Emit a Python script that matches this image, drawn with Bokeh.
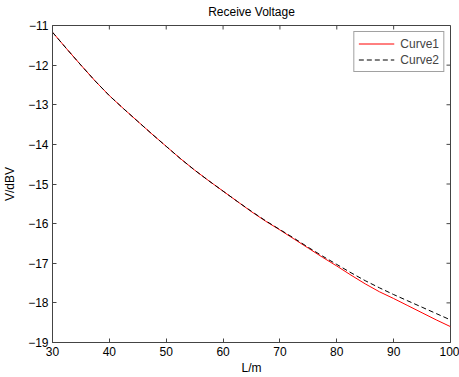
import math
from bokeh.plotting import figure
from bokeh.models import Range1d, FixedTicker, Legend, LegendItem
from bokeh.embed import file_html
from bokeh.resources import INLINE

# Data
L = [30, 32.5, 35, 37.5, 40, 42.5, 45, 47.5, 50, 52.5, 55, 57.5, 60, 62.5, 65, 67.5,
     70, 72.5, 75, 77.5, 80, 82.5, 85, 87.5, 90, 92.5, 95, 97.5, 100]
curve1 = [-11.17, -11.59, -12.00, -12.40, -12.77, -13.10, -13.42, -13.74, -14.05,
          -14.36, -14.65, -14.92, -15.18, -15.44, -15.70, -15.94, -16.16, -16.39,
          -16.62, -16.85, -17.07, -17.30, -17.52, -17.72, -17.89, -18.07, -18.25,
          -18.43, -18.60]
curve2 = [-11.17, -11.59, -12.00, -12.40, -12.77, -13.10, -13.42, -13.74, -14.05,
          -14.36, -14.65, -14.92, -15.18, -15.44, -15.69, -15.93, -16.15, -16.37,
          -16.60, -16.82, -17.03, -17.24, -17.44, -17.62, -17.79, -17.95, -18.11,
          -18.27, -18.43]
x_ticks = [30, 40, 50, 60, 70, 80, 90, 100]
y_ticks = [-19, -18, -17, -16, -15, -14, -13, -12, -11]
x_lim = (30, 100)
y_lim = (-19, -11)

FONT = "Liberation Sans"
AX = "#444444"

p = figure(width=459, height=377, x_range=Range1d(*x_lim), y_range=Range1d(*y_lim),
           output_backend="svg", toolbar_location=None,
           min_border_left=50, min_border_right=9, min_border_top=25, min_border_bottom=35,
           title="Receive Voltage")
p.title.text_font = FONT
p.title.text_font_size = "12px"
p.title.text_font_style = "normal"
p.title.align = "center"
p.title.vertical_align = "top"
p.title.text_color = "#000000"
p.title.standoff = 9
p.grid.visible = False
p.outline_line_color = AX
p.background_fill_color = "white"
p.border_fill_color = "white"

for ax in (p.xaxis[0], p.yaxis[0]):
    ax.major_tick_in = 4
    ax.major_tick_out = 0
    ax.minor_tick_in = 0
    ax.minor_tick_out = 0
    ax.axis_line_color = AX
    ax.major_tick_line_color = AX
    ax.major_label_text_font = FONT
    ax.major_label_text_font_size = "12px"
    ax.major_label_text_color = "#000000"
    ax.axis_label_text_font = FONT
    ax.axis_label_text_font_size = "12px"
    ax.axis_label_text_font_style = "normal"
    ax.axis_label_text_color = "#000000"

p.xaxis.ticker = FixedTicker(ticks=x_ticks)
p.yaxis.ticker = FixedTicker(ticks=y_ticks)
p.xaxis.axis_label = "L/m"
p.yaxis.axis_label = "V/dBV"
p.xaxis.major_label_standoff = 4
p.xaxis.axis_label_standoff = 2
p.yaxis.major_label_standoff = 4
p.yaxis.axis_label_standoff = 8

# inward ticks on the top and right edges of the box (MATLAB style)
p.ray(x=x_ticks, y=[y_lim[1]] * len(x_ticks), length=4, length_units="screen",
      angle=-math.pi / 2, line_color=AX, line_width=1)
p.ray(x=[x_lim[1]] * len(y_ticks), y=y_ticks, length=4, length_units="screen",
      angle=math.pi, line_color=AX, line_width=1)

r1 = p.line(L, curve1, line_color="#ff0000", line_width=1)
r2 = p.line(L, curve2, line_color="#000000", line_width=1, line_dash="5 3")

leg = Legend(items=[LegendItem(label="Curve1", renderers=[r1]),
                    LegendItem(label="Curve2", renderers=[r2])],
             location="top_right")
leg.margin = 6
leg.padding = 4
leg.spacing = 1
leg.label_height = 14
leg.glyph_height = 15
leg.glyph_width = 36
leg.label_standoff = 6
leg.label_text_font = FONT
leg.label_text_font_size = "12px"
leg.border_line_color = AX
leg.background_fill_alpha = 1
p.add_layout(leg)

open("out.html", "w").write(file_html(p, INLINE))
